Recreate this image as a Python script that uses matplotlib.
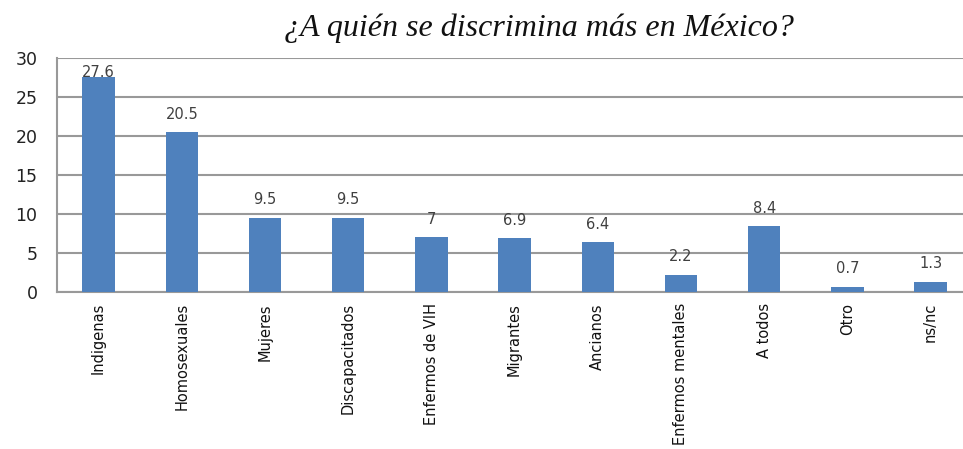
import matplotlib.pyplot as plt
import numpy as np

categorias = ['Indigenas', 'Homosexuales', 'Mujeres', 'Discapacitados', 'Enfermos de VIH',
              'Migrantes', 'Ancianos', 'Enfermos mentales', 'A todos', 'Otro', 'ns/nc']
valores = [27.6, 20.5, 9.5, 9.5, 7, 6.9, 6.4, 2.2, 8.4, 0.7, 1.3]
etiquetas = ['27.6', '20.5', '9.5', '9.5', '7', '6.9', '6.4', '2.2', '8.4', '0.7', '1.3']

fig = plt.figure(figsize=(9.63, 4.49), dpi=100)
ax = fig.add_axes([57/963, 1 - 292/449, (963 - 57)/963, 234/449])

x = np.arange(len(categorias))
ax.bar(x, valores, width=0.39, color='#4F81BD', zorder=3)

ax.set_ylim(0, 30)
ax.set_xlim(-0.5, 10.39)
ax.set_yticks([0, 5, 10, 15, 20, 25, 30])
ax.grid(True, axis='y', color='#999999', linewidth=1.5, zorder=0)
for s in ['top', 'right']:
    ax.spines[s].set_visible(False)
for s in ['left', 'bottom']:
    ax.spines[s].set_color('#999999')
    ax.spines[s].set_linewidth(1.5)

ax.tick_params(axis='y', length=0, pad=14, labelsize=12.5, labelcolor='#222222')
ax.tick_params(axis='x', length=0, pad=8)
ax.set_xticks(x)
ax.set_xticklabels(categorias, rotation=90, fontsize=10.5, family='DejaVu Sans',
                   va='top', ha='center', color='#111111')
for t in ax.get_yticklabels():
    t.set_family('DejaVu Sans')

# etiquetas de valor
for xi, v, lab in zip(x, valores, etiquetas):
    y = min(v + 2.3, 28.2)
    ax.text(xi, y, lab, ha='center', va='center', fontsize=10.5,
            family='DejaVu Sans', color='#404040', zorder=4)

fig.text(539/963, 1 - 28/449, '¿A quién se discrimina más en México?', ha='center', va='center',
         fontsize=23, family='Liberation Serif', style='italic', color='#111111')

plt.savefig('out.png', dpi=100)
